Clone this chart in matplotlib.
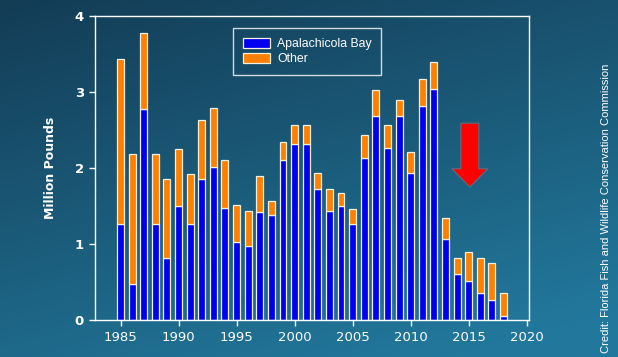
import matplotlib
matplotlib.use("Agg")
import matplotlib.pyplot as plt
import numpy as np
from matplotlib.patches import FancyArrow

years = list(range(1985, 2019))
apalachicola = [1.26, 0.47, 2.78, 1.26, 0.81, 1.50, 1.26, 1.85, 2.01, 1.47,
                1.02, 0.97, 1.42, 1.38, 2.11, 2.32, 2.32, 1.72, 1.44, 1.50,
                1.26, 2.13, 2.69, 2.26, 2.69, 1.94, 2.81, 3.04, 1.06, 0.60,
                0.51, 0.36, 0.26, 0.05]
total = [3.43, 2.19, 3.78, 2.18, 1.85, 2.25, 1.92, 2.63, 2.79, 2.10,
         1.51, 1.44, 1.90, 1.57, 2.34, 2.56, 2.57, 1.93, 1.73, 1.67,
         1.46, 2.44, 3.02, 2.57, 2.90, 2.21, 3.17, 3.40, 1.34, 0.81,
         0.89, 0.81, 0.75, 0.35]
other = [t - a for t, a in zip(total, apalachicola)]
x_ticks = [1985, 1990, 1995, 2000, 2005, 2010, 2015, 2020]
y_ticks = [0, 1, 2, 3, 4]

W, H = 618, 357
fig = plt.figure(figsize=(W / 100, H / 100), dpi=100)

# background gradient, dark top-left to lighter bottom-right
bg = fig.add_axes([0, 0, 1, 1], zorder=-10)
gx, gy = np.meshgrid(np.linspace(0, 1, 300), np.linspace(0, 1, 200))
t = np.clip(0.35 * gx + 0.75 * gy, 0, 1)
top = np.array([0x13, 0x3c, 0x55]) / 255
bot = np.array([0x22, 0x78, 0x9c]) / 255
img = top[None, None, :] * (1 - t[..., None]) + bot[None, None, :] * t[..., None]
bg.imshow(img, aspect="auto", extent=[0, 1, 1, 0])
bg.set_axis_off()

ax = fig.add_axes([95 / W, 37 / H, 434 / W, 304 / H])
ax.patch.set_alpha(0)
ax.bar(years, apalachicola, width=0.6, color="#0000f0", edgecolor="#f4f0e0",
       linewidth=0.9, label="Apalachicola Bay")
ax.bar(years, other, bottom=apalachicola, width=0.6, color="#ff8000",
       edgecolor="#f4f0e0", linewidth=0.9, label="Other")

ax.add_patch(FancyArrow(2015.1, 2.59, 0, -0.84, width=1.55, head_width=3.1,
                        head_length=0.24, length_includes_head=True,
                        facecolor="#ff0000", edgecolor="#5a7080", linewidth=0.8))

ax.set_xlim(1982.8, 2020.2)
ax.set_ylim(0, 4)
ax.set_xticks(x_ticks)
ax.set_yticks(y_ticks)
for s in ax.spines.values():
    s.set_color("white")
    s.set_linewidth(1)
ax.tick_params(colors="white", length=4, width=1, labelsize=9.5, pad=4)
for lbl in ax.get_yticklabels():
    lbl.set_fontweight("bold")
ax.set_ylabel("Million Pounds", color="white", fontsize=9, fontweight="bold",
              labelpad=13)

leg = ax.legend(loc="upper left", bbox_to_anchor=(0.318, 0.9605), frameon=True,
                fancybox=False, borderaxespad=0, labelcolor="white",
                prop={"family": "Liberation Sans", "size": 8.8},
                handlelength=2.2, handleheight=0.9, borderpad=0.8,
                labelspacing=0.25, handletextpad=0.6)
leg.get_frame().set_facecolor("none")
leg.get_frame().set_edgecolor("white")
leg.get_frame().set_linewidth(1)

fig.text(606 / W, 0.417, "Credit: Florida Fish and Wildlife Conservation Commission",
         rotation=90, color="white", fontsize=8, family="Liberation Sans",
         ha="center", va="center")

fig.savefig("out.png", dpi=100)
